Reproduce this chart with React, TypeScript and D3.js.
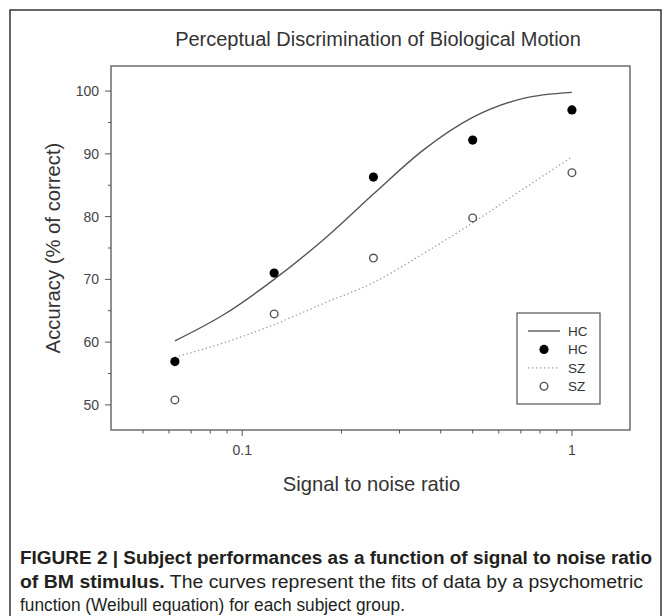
import React from 'react';
import * as d3 from 'd3';

// data
const snr = [0.0625, 0.125, 0.25, 0.5, 1];
const hcAcc = [56.9, 71.0, 86.3, 92.2, 97.0];
const szAcc = [50.8, 64.5, 73.4, 79.8, 87.0];

// fitted curves
const fitSnr = [0.0625, 0.088, 0.125, 0.177, 0.25, 0.354, 0.5, 0.707, 1];
const hcFit = [60.2, 64.4, 70.0, 76.4, 83.6, 90.6, 95.8, 98.8, 99.8];
const szFit = [57.6, 59.9, 62.8, 66.2, 69.5, 74.1, 79.0, 84.3, 89.5];

const yTicks = [50, 60, 70, 80, 90, 100];
const yMinor = [55, 65, 75, 85, 95];
const xTicks = [0.1, 1];
const xMinor = [0.05, 0.06, 0.07, 0.08, 0.09, 0.2, 0.3, 0.4, 0.5, 0.6, 0.7, 0.8, 0.9];

const legendItems = ['HC', 'HC', 'SZ', 'SZ'];

const W = 671, H = 616;
const plot = { left: 111, top: 66, right: 630, bottom: 430 };
const font = 'Liberation Sans, Arial, sans-serif';
const axisColor = '#555';

export default function App() {
  const x = d3.scaleLog().domain([0.04, 1.5]).range([plot.left, plot.right]);
  const y = d3.scaleLinear().domain([46, 104]).range([plot.bottom, plot.top]);

  const line = d3.line<number>()
    .x((d, i) => x(fitSnr[i]))
    .y(d => y(d))
    .curve(d3.curveMonotoneX);

  const lx = 517, ly = 313;

  return (
    <svg width={W} height={H} style={{ position: 'absolute', left: 0, top: 0, background: '#fff' }}
      fontFamily={font}>
      <rect x={10} y={10} width={651} height={640} fill="#fff" stroke="#333" strokeWidth={1.5} />

      <text x={378} y={46} textAnchor="middle" fontSize={20} fill="#333">
        Perceptual Discrimination of Biological Motion
      </text>

      <rect x={plot.left} y={plot.top} width={plot.right - plot.left} height={plot.bottom - plot.top}
        fill="none" stroke={axisColor} strokeWidth={1.3} />

      {yTicks.map(t => (
        <g key={'y' + t}>
          <line x1={plot.left - 6} x2={plot.left} y1={y(t)} y2={y(t)} stroke={axisColor} />
          <text x={plot.left - 12} y={y(t)} dy="0.35em" textAnchor="end" fontSize={14} fill="#444">{t}</text>
        </g>
      ))}
      {yMinor.map(t => (
        <line key={'ym' + t} x1={plot.left - 3} x2={plot.left} y1={y(t)} y2={y(t)} stroke={axisColor} />
      ))}
      {xTicks.map(t => (
        <g key={'x' + t}>
          <line x1={x(t)} x2={x(t)} y1={plot.bottom} y2={plot.bottom + 6} stroke={axisColor} />
          <text x={x(t)} y={455} textAnchor="middle" fontSize={14} fill="#444">{t}</text>
        </g>
      ))}
      {xMinor.map(t => (
        <line key={'xm' + t} x1={x(t)} x2={x(t)} y1={plot.bottom} y2={plot.bottom + 3.5} stroke={axisColor} />
      ))}

      <text transform={`translate(59.5,${(plot.top + plot.bottom) / 2}) rotate(-90)`} textAnchor="middle"
        fontSize={20.3} fill="#333">Accuracy (% of correct)</text>
      <text x={371.5} y={491} textAnchor="middle" fontSize={20.2} fill="#333">
        Signal to noise ratio
      </text>

      <path d={line(hcFit) || ''} fill="none" stroke="#555" strokeWidth={1.4} />
      <path d={line(szFit) || ''} fill="none" stroke="#999" strokeWidth={1.3} strokeDasharray="1.3,2.7" />

      {snr.map((s, i) => (
        <circle key={'hc' + i} cx={x(s)} cy={y(hcAcc[i])} r={4.6} fill="#000" />
      ))}
      {snr.map((s, i) => (
        <circle key={'sz' + i} cx={x(s)} cy={y(szAcc[i])} r={3.8} fill="#fff" stroke="#555" strokeWidth={1.4} />
      ))}

      <rect x={lx} y={ly} width={83} height={91} fill="#fff" stroke={axisColor} strokeWidth={1.2} />
      {legendItems.map((lab, i) => {
        const cy = ly + 18 + i * 18.4;
        return (
          <g key={'lg' + i}>
            {i === 0 && <line x1={528} x2={560} y1={cy} y2={cy} stroke="#555" strokeWidth={1.4} />}
            {i === 1 && <circle cx={544} cy={cy} r={4.6} fill="#000" />}
            {i === 2 && <line x1={528} x2={560} y1={cy} y2={cy} stroke="#999" strokeWidth={1.3} strokeDasharray="1.3,2.7" />}
            {i === 3 && <circle cx={544} cy={cy} r={3.8} fill="#fff" stroke="#555" strokeWidth={1.4} />}
            <text x={568} y={cy} dy="0.36em" fontSize={13.5} fill="#333">{lab}</text>
          </g>
        );
      })}

      <text x={20} y={564} fontSize={17.5} fontWeight="bold" fill="#231f20" textLength={632} lengthAdjust="spacingAndGlyphs">
        FIGURE 2 | Subject performances as a function of signal to noise ratio
      </text>
      <text x={20} y={588} fontSize={17.5} fill="#231f20" textLength={623} lengthAdjust="spacingAndGlyphs">
        <tspan fontWeight="bold">of BM stimulus.</tspan> The curves represent the fits of data by a psychometric
      </text>
      <text x={20} y={611} fontSize={17.5} fill="#231f20" textLength={385} lengthAdjust="spacingAndGlyphs">
        function (Weibull equation) for each subject group.
      </text>
    </svg>
  );
}
